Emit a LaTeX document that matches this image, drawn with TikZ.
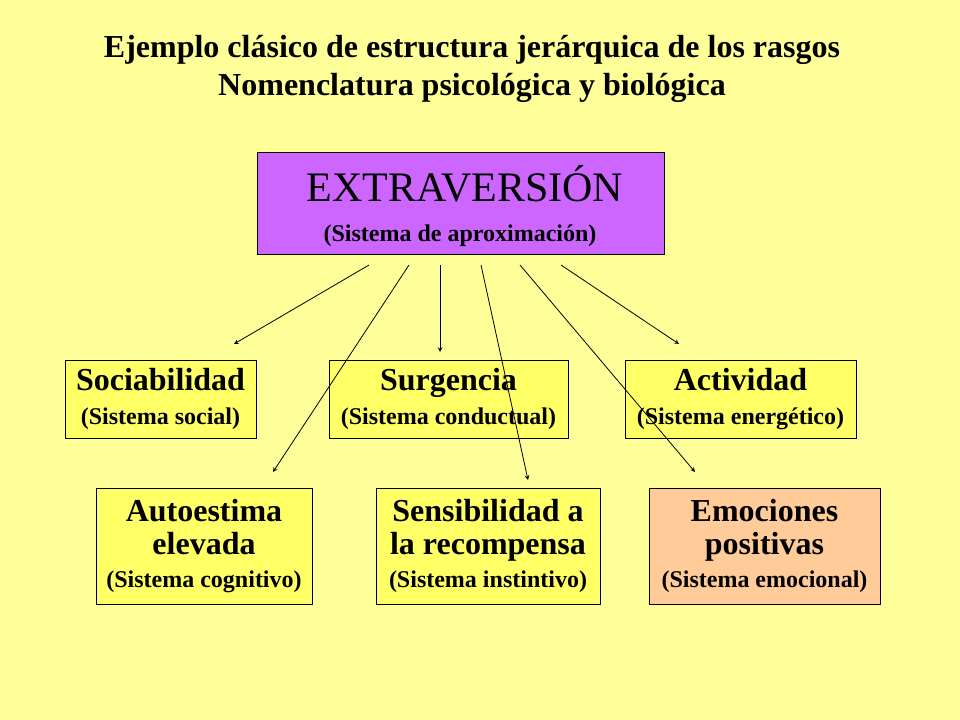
\documentclass[tikz,border=0pt]{standalone}
\usepackage{fontspec}
\setmainfont{Liberation Serif}
\usetikzlibrary{arrows}
\definecolor{bgyellow}{HTML}{FFFF99}
\definecolor{boxyellow}{HTML}{FFFF66}
\definecolor{boxpurple}{HTML}{CC66FF}
\definecolor{boxorange}{HTML}{FFCC99}
\tikzstyle{trait} = [rectangle, draw=black, fill=boxyellow, align=center, font=\bfseries\fontsize{24}{25}\selectfont, inner sep=0pt]
\tikzstyle{arrow} = [->,>=stealth, semithick]
\newcommand{\subline}[1]{{\fontsize{18}{20}\selectfont #1}}

\begin{document}
\begin{tikzpicture}[x=0.75pt,y=-0.75pt]

    % Background
    \fill[bgyellow] (0,0) rectangle (960,720);
    \useasboundingbox (0,0) rectangle (960,720);

    % Title
    \node (title) [align=center, font=\bfseries\fontsize{24}{28}\selectfont] at (472,69) {Ejemplo clásico de estructura jerárquica de los rasgos\\Nomenclatura psicológica y biológica};

    % Top box
    \node (extra) [rectangle, draw=black, fill=boxpurple, minimum width=305.25pt, minimum height=76.5pt] at (460.5,203) {};
    \node (extratxt) [font=\fontsize{31.5}{34}\selectfont] at (465,184) {EXTRAVERSIÓN};
    \node (extrasub) [font=\bfseries\fontsize{18}{20}\selectfont] at (460,236) {(Sistema de aproximación)};

    % Traits
    \node (soc) [trait, minimum width=143.25pt, minimum height=58.5pt] at (160.5,399) {Sociabilidad\\\subline{(Sistema social)}};
    \node (sur) [trait, minimum width=179.25pt, minimum height=58.5pt] at (448.5,399) {Surgencia\\\subline{(Sistema conductual)}};
    \node (act) [trait, minimum width=173.25pt, minimum height=58.5pt] at (740.5,399) {Actividad\\\subline{(Sistema energético)}};
    \node (aut) [trait, minimum width=162pt, minimum height=87pt] at (204,546) {Autoestima\\elevada\\\subline{(Sistema cognitivo)}};
    \node (sen) [trait, minimum width=168pt, minimum height=87pt] at (488,546) {Sensibilidad a\\la recompensa\\\subline{(Sistema instintivo)}};
    \node (emo) [trait, fill=boxorange, minimum width=173.25pt, minimum height=87pt] at (764.5,546) {Emociones\\positivas\\\subline{(Sistema emocional)}};

    % Arrow ends
    \coordinate (s1) at (369,265); \coordinate (e1) at (234,344);
    \coordinate (s2) at (409,265); \coordinate (e2) at (273,472);
    \coordinate (s3) at (440,265); \coordinate (e3) at (440,352);
    \coordinate (s4) at (481,265); \coordinate (e4) at (528,480);
    \coordinate (s5) at (520,265); \coordinate (e5) at (695,472);
    \coordinate (s6) at (561,265); \coordinate (e6) at (679,344);

    % Arrows
    \foreach \i in {1,...,6}
        \draw [arrow] (s\i) -- (e\i);

\end{tikzpicture}
\end{document}
